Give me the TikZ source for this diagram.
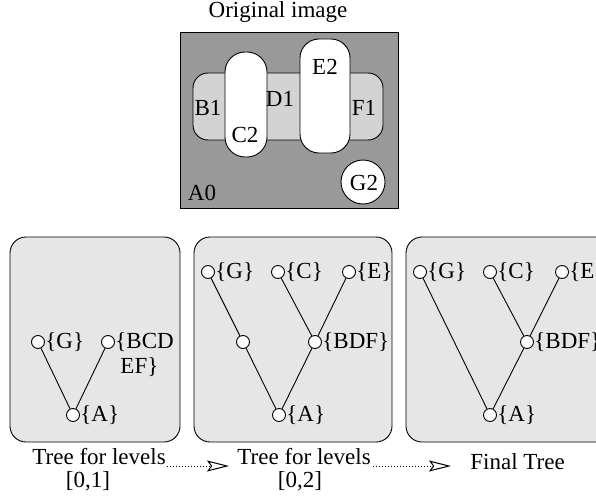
\documentclass[tikz,border=0pt]{standalone}
\usepackage{fontspec}
\setmainfont{Liberation Serif}
\usetikzlibrary{arrows.meta}
\definecolor{boxgray}{RGB}{153,153,153}
\definecolor{bandgray}{RGB}{211,211,211}
\definecolor{panelgray}{RGB}{230,230,230}
\begin{document}
\begin{tikzpicture}[x=1pt,y=-1pt,line width=0.9pt,
  every node/.style={font=\fontsize{23}{26}\selectfont},
  tn/.style={circle,draw,fill=white,inner sep=0pt,minimum size=13pt},
  lbl/.style={anchor=west,inner sep=0pt},
  txt/.style={inner sep=0pt},
  panel/.style={draw,fill=panelgray,rounded corners=16pt},
  flow/.style={dash pattern=on 1.2pt off 1.8pt,-{Stealth[open,length=22pt,width=11pt,inset=4pt,line width=1pt]},line width=0.9pt}]
\useasboundingbox (0,0) rectangle (596,495);
% Original image
\node[txt,anchor=base] (title) at (278,18) {Original image};
\draw[fill=boxgray] (180,32) rectangle (398,208);
\draw[fill=bandgray,rounded corners=15pt] (193,73) rectangle (383,140);
\draw[fill=white,rounded corners=20pt] (225,52) rectangle (267,157);
\draw[fill=white,rounded corners=19pt] (300,39) rectangle (350,153);
\node[circle,draw,fill=white,minimum size=44pt,inner sep=0pt] (g2) at (363,182) {};
\node[txt] at (208,108) {B1};
\node[txt] at (280,99) {D1};
\node[txt] at (364,108) {F1};
\node[txt] at (325,67) {E2};
\node[txt] at (245,135) {C2};
\node[txt] at (202,193) {A0};
\node[txt] at (364,183) {G2};
% Panels
\draw[panel] (10,237) rectangle (180,442);
\draw[panel] (194,237) rectangle (392,442);
\draw[panel] (406,237) rectangle (630,442);
% Panel 1
\node[tn] (p1g) at (38,342) {};
\node[tn] (p1x) at (108,342) {};
\node[tn] (p1a) at (73,415) {};
\node[lbl] at (p1g.east) {\{G\}};
\node[lbl] at (p1x.east) {\{BCD};
\node[lbl] at (120,367) {EF\}};
\node[lbl] at (p1a.east) {\{A\}};
\draw (p1g) -- (p1a) -- (p1x);
% Panel 2
\node[tn] (p2g) at (208,272) {};
\node[tn] (p2c) at (278,272) {};
\node[tn] (p2e) at (349,272) {};
\node[tn] (p2m) at (243,342) {};
\node[tn] (p2b) at (315,342) {};
\node[tn] (p2a) at (279,415) {};
\node[lbl] at (p2g.east) {\{G\}};
\node[lbl] at (p2c.east) {\{C\}};
\node[lbl] at (p2e.east) {\{E\}};
\node[lbl] at (p2b.east) {\{BDF\}};
\node[lbl] at (p2a.east) {\{A\}};
\draw (p2g) -- (p2m) -- (p2a) -- (p2b) -- (p2c);
\draw (p2e) -- (p2b);
% Panel 3
\node[tn] (p3g) at (420,272) {};
\node[tn] (p3c) at (490,272) {};
\node[tn] (p3e) at (562,272) {};
\node[tn] (p3b) at (527,342) {};
\node[tn] (p3a) at (490,415) {};
\node[lbl] at (p3g.east) {\{G\}};
\node[lbl] at (p3c.east) {\{C\}};
\node[lbl] at (p3e.east) {\{E\}};
\node[lbl] at (p3b.east) {\{BDF\}};
\node[lbl] at (p3a.east) {\{A\}};
\draw (p3g) -- (p3a) -- (p3b) -- (p3c);
\draw (p3e) -- (p3b);
% Captions
\node[txt,anchor=base west] (cap1) at (32,464) {Tree for levels};
\node[txt,anchor=base] at (88,487) {[0,1]};
\node[txt,anchor=base west] (cap2) at (237,464) {Tree for levels};
\node[txt,anchor=base] at (300,487) {[0,2]};
\node[txt,anchor=base west] (cap3) at (470,469) {Final Tree};
\coordinate (a1s) at ([xshift=1pt]cap1.base east);
\coordinate (a1e) at (229,464);
\coordinate (a2s) at ([xshift=2pt]cap2.base east);
\coordinate (a2e) at (451,464);
\draw[flow] ([yshift=-2pt]a1s) -- ([yshift=-2pt]a1e);
\draw[flow] ([yshift=-2pt]a2s) -- ([yshift=-2pt]a2e);
\end{tikzpicture}
\end{document}
